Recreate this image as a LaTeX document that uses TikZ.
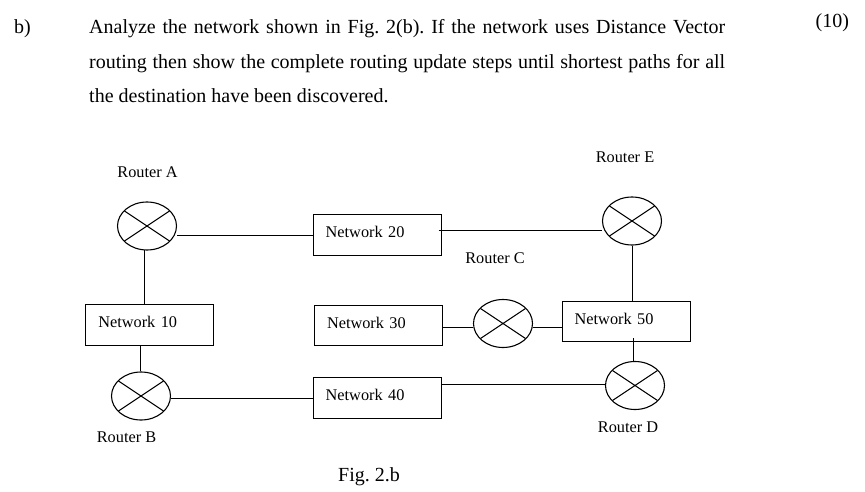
\documentclass[tikz,border=0pt]{standalone}
\usepackage{fontspec}
\setmainfont{Liberation Serif}
\usetikzlibrary{shapes.geometric,calc}
\tikzset{
  netbox/.style={draw,line width=1pt,minimum height=40.5pt,minimum width=128pt,anchor=west,
    inner xsep=12.5pt,inner ysep=0pt,text width=103pt,align=left,text height=11pt,text depth=5.6pt,
    font=\fontsize{16.3}{18}\selectfont},
  router/.style={draw,ellipse,line width=1.1pt,inner sep=0pt,minimum width=59pt,minimum height=48pt},
  routerlabel/.style={inner sep=0pt,font=\fontsize{16.3}{18}\selectfont},
  para/.style={inner sep=0pt,anchor=base west,font=\fontsize{20}{24}\selectfont},
  link/.style={line width=1pt}
}
% crossed lines inside a router, reaching close to its outline
\newcommand{\crossed}[1]{\draw[line width=1pt] ($(#1)+(-22.5,-15)$)--($(#1)+(22.5,15)$) ($(#1)+(22.5,-15)$)--($(#1)+(-22.5,15)$);}
\frenchspacing
\begin{document}
\begin{tikzpicture}[x=1pt,y=-1pt]
\useasboundingbox (0,0) rectangle (865,492);
% question text
\node[para] (b) at (14,34) {b)};
\node[para] (l1) at (89,34) {\makebox[636pt][s]{Analyze the network shown in Fig. 2(b). If the network uses Distance Vector}};
\node[para] (l2) at (89,68.5) {\makebox[636pt][s]{routing then show the complete routing update steps until shortest paths for all}};
\node[para] (l3) at (89,102.5) {the destination have been discovered.};
\node[para] (m) at (815.5,28) {(10)};
% routers
\node[router] (A) at (147,226) {};
\node[router] (B) at (141,396) {};
\node[router] (C) at (503,323.5) {};
\node[router] (D) at (635,385.5) {};
\node[router] (E) at (632,221) {};
\foreach \r in {A,B,C,D,E}{\crossed{\r}}
% networks
\node[netbox] (n10) at (85.3,325) {Network 10};
\node[netbox] (n20) at (312.7,235) {Network 20};
\node[netbox] (n30) at (314,325.7) {Network 30};
\node[netbox] (n40) at (312.7,398) {Network 40};
\node[netbox] (n50) at (561.7,321.7) {Network 50};
% labels
\node[routerlabel] (la) at (147.5,172) {Router A};
\node[routerlabel] (lb) at (126.5,437) {Router B};
\node[routerlabel] (lc) at (495,258) {Router C};
\node[routerlabel] (ld) at (628,427) {Router D};
\node[routerlabel] (le) at (625,157) {Router E};
\node[para,anchor=center] (fig) at (369,476.5) {Fig. 2.b};
% links
\coordinate (e20) at (438.5,230.3);
\draw[link] (n20.west) -- (n20.west -| A.east);
\draw[link] (e20) -- (e20 -| E.west);
\draw[link] (A.south) ++(-2.7,-0.2) -- (n10.north -| 144.3,0);
\draw[link] (n10.south -| 140,0) -- (B.north -| 140,0);
\draw[link] (n40.west) -- (B.east |- n40.west);
\draw[link] (n40.east |- 0,384) -- (D.west |- 0,384);
\draw[link] (n30.east |- 0,327.7) -- (C.west |- 0,327.7);
\draw[link] (C.east |- 0,327.7) -- (n50.west |- 0,327.7);
\draw[link] (E.south) ++(0.7,0) -- (n50.north -| 632.7,0);
\draw[link] (633.3,338) -- (D.north -| 633.3,0);
\end{tikzpicture}
\end{document}
